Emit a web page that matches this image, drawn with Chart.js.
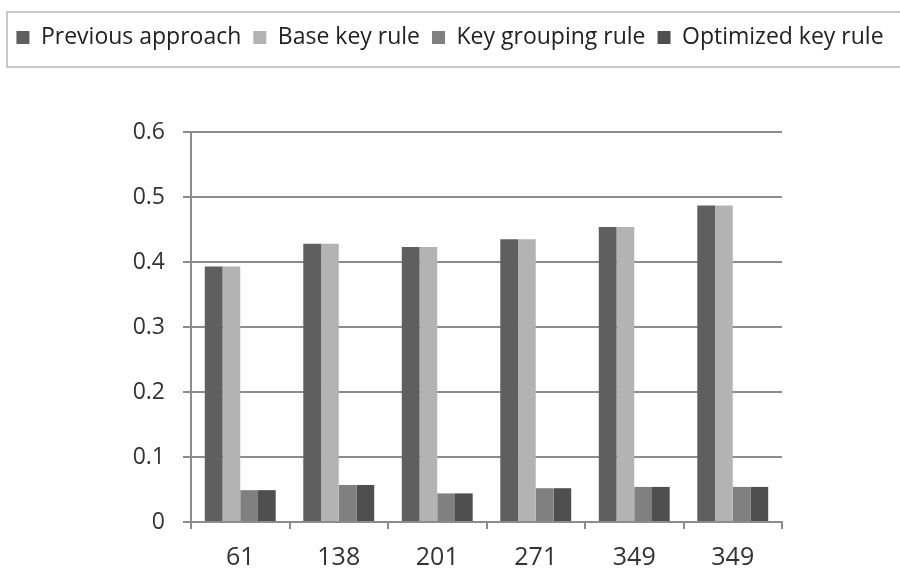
<!DOCTYPE html>
<html>
<head>
<meta charset="utf-8">
<script src="https://cdn.jsdelivr.net/npm/chart.js@4.4.1/dist/chart.umd.min.js"></script>
<style>
  html, body { margin: 0; padding: 0; background: #ffffff; }
  #wrap { width: 900px; height: 570px; position: relative; }
</style>
</head>
<body>
<div id="wrap"><canvas id="chart"></canvas></div>
<script>
// Categories along the x axis
const categories = ['61', '138', '201', '271', '349', '349'];

// Series values
const previousApproach = [0.393, 0.428, 0.423, 0.435, 0.454, 0.487];
const baseKeyRule      = [0.393, 0.428, 0.423, 0.435, 0.454, 0.487];
const keyGroupingRule  = [0.049, 0.057, 0.044, 0.052, 0.054, 0.054];
const optimizedKeyRule = [0.049, 0.057, 0.044, 0.052, 0.054, 0.054];

// Y axis range and step
const yMin = 0;
const yMax = 0.6;
const yStep = 0.1;

const FONT = "'Open Sans', 'Noto Sans', sans-serif";
const GRID = '#8c8c8c';

Chart.defaults.font.family = FONT;
Chart.defaults.color = '#333333';

// Legend band with a fixed height, and a thin frame drawn around it
const legendBand = {
  id: 'legendBand',
  beforeInit(chart) {
    const lg = chart.legend;
    if (lg) {
      const fit = lg.fit;
      lg.fit = function () {
        fit.call(this);
        this.height = 118;
      };
    }
  },
  afterDraw(chart) {
    const ctx = chart.ctx;
    ctx.save();
    ctx.strokeStyle = '#c8c8c8';
    ctx.lineWidth = 2;
    ctx.strokeRect(7, 12, 910, 55);
    ctx.restore();
  }
};

new Chart(document.getElementById('chart'), {
  type: 'bar',
  data: {
    labels: categories,
    datasets: [
      { label: 'Previous approach',  data: previousApproach, backgroundColor: '#5f5f5f' },
      { label: 'Base key rule',      data: baseKeyRule,      backgroundColor: '#b3b3b3' },
      { label: 'Key grouping rule',  data: keyGroupingRule,  backgroundColor: '#808080' },
      { label: 'Optimized key rule', data: optimizedKeyRule, backgroundColor: '#4f4f4f' }
    ]
  },
  options: {
    responsive: true,
    maintainAspectRatio: false,
    animation: false,
    datasets: { bar: { categoryPercentage: 0.72, barPercentage: 1.0 } },
    layout: { padding: { top: 14, left: 0, right: 0, bottom: 0 } },
    plugins: {
      tooltip: { enabled: false },
      legend: {
        position: 'top',
        align: 'center',
        labels: {
          font: { size: 23, family: FONT },
          color: '#222222',
          boxWidth: 13,
          boxHeight: 13,
          padding: 12
        }
      }
    },
    scales: {
      x: {
        grid: { display: true, drawOnChartArea: false, drawTicks: true, tickLength: 7, color: GRID, lineWidth: 2, offset: true },
        border: { display: true, color: GRID, width: 2 },
        ticks: { font: { size: 25, family: FONT }, color: '#333333', padding: 14 },
        afterFit(s) { s.height = 48; }
      },
      y: {
        min: yMin,
        max: yMax,
        grid: { color: GRID, lineWidth: 2, drawTicks: true, tickLength: 8 },
        border: { display: true, color: GRID, width: 2 },
        ticks: {
          stepSize: yStep,
          font: { size: 23, family: FONT },
          color: '#333333',
          padding: 18,
          callback: v => String(+v.toFixed(1))
        },
        afterFit(s) { s.width = 191; }
      },
      rightGap: {
        type: 'linear',
        position: 'right',
        display: true,
        grid: { display: false },
        border: { display: false },
        ticks: { display: false },
        afterFit(s) { s.width = 118; }
      }
    }
  },
  plugins: [legendBand]
});
</script>
</body>
</html>
